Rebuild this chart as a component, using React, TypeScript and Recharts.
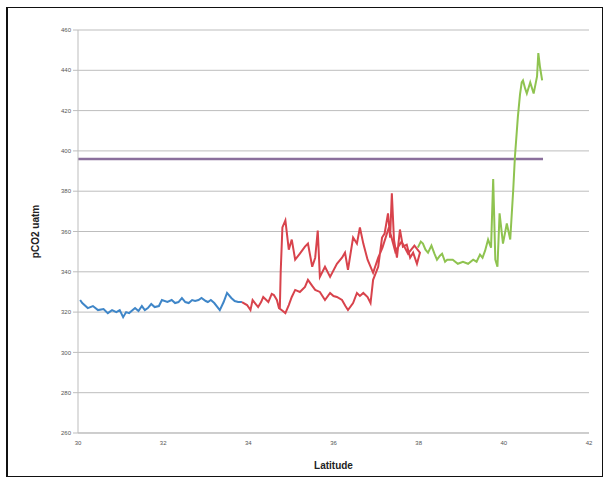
import React from 'react';
import { LineChart, Line, XAxis, YAxis, CartesianGrid } from 'recharts';

// latitude, pCO2 pairs
const blueTrack: [number, number][] = [
  [30.05, 326], [30.1, 324.5], [30.23, 322], [30.35, 323], [30.47, 321], [30.6, 321.5], [30.7, 319.5], [30.8, 321],
  [30.9, 320], [30.98, 321], [31.06, 317.5], [31.13, 320], [31.2, 319.5], [31.34, 322], [31.42, 320.5], [31.5, 323],
  [31.57, 321], [31.64, 322], [31.72, 324], [31.8, 322.5], [31.9, 323], [31.97, 326], [32.1, 325], [32.2, 326],
  [32.28, 324.5], [32.36, 325], [32.44, 327], [32.52, 325], [32.6, 324.5], [32.68, 326], [32.75, 325.5], [32.83, 326],
  [32.9, 327], [33.0, 325.5], [33.05, 325], [33.12, 326], [33.2, 324.5], [33.33, 321], [33.42, 325], [33.5, 329.5],
  [33.6, 327], [33.68, 325.5], [33.76, 325], [33.85, 325],
];

const redTrack: [number, number][] = [
  [33.85, 325], [33.97, 323.5], [34.05, 321], [34.1, 326], [34.23, 322.5], [34.3, 325], [34.35, 327.5], [34.47, 325],
  [34.55, 329], [34.6, 328.5], [34.67, 326], [34.72, 322], [34.78, 321], [34.87, 319.5], [34.95, 323.5], [35.02, 327.5],
  [35.1, 331], [35.21, 330], [35.33, 332.5], [35.4, 336], [35.5, 333], [35.57, 331], [35.68, 330], [35.8, 326],
  [35.92, 329.5], [36.0, 328], [36.08, 327.5], [36.2, 326], [36.28, 323], [36.34, 321], [36.46, 324.5], [36.55, 329.5],
  [36.62, 328], [36.7, 329.5], [36.8, 327.5], [36.87, 324.5], [36.93, 336], [37.05, 342.5], [37.14, 357], [37.2, 359],
  [37.28, 369], [37.33, 357], [37.37, 379], [37.42, 356], [37.49, 347], [37.56, 361], [37.63, 352.5], [37.72, 353.5],
  [37.8, 347], [37.87, 349.5], [37.96, 344], [38.03, 349.5],
  [37.9, 353], [37.75, 349], [37.6, 355], [37.45, 350], [37.3, 362], [37.15, 352], [37.05, 347], [36.93, 339.5],
  [36.8, 346], [36.7, 354], [36.62, 362], [36.55, 354], [36.46, 357], [36.34, 341], [36.27, 349.5], [36.2, 347],
  [36.08, 344], [35.92, 337.5], [35.8, 342.5], [35.68, 337.5], [35.63, 360.5], [35.57, 347], [35.5, 342.5],
  [35.4, 354], [35.33, 352.5], [35.21, 349], [35.1, 346], [35.02, 356], [34.95, 351], [34.87, 365.5], [34.8, 362],
  [34.76, 340], [34.74, 322],
];

const greenTrack: [number, number][] = [
  [37.98, 352], [38.05, 355], [38.1, 354], [38.16, 351], [38.22, 349.5], [38.3, 353], [38.37, 349], [38.43, 346],
  [38.5, 348], [38.55, 349], [38.62, 345], [38.67, 346], [38.8, 346], [38.92, 344], [39.04, 345], [39.16, 344],
  [39.28, 346], [39.36, 345], [39.44, 348.5], [39.5, 347], [39.56, 350.5], [39.63, 356], [39.7, 352], [39.75, 386],
  [39.8, 346], [39.85, 342.5], [39.9, 369], [39.98, 354], [40.07, 364], [40.15, 356], [40.22, 380.5], [40.26, 397],
  [40.33, 417], [40.38, 428], [40.42, 434], [40.45, 435], [40.5, 431], [40.54, 428.5], [40.62, 434], [40.7, 428.5],
  [40.78, 437], [40.81, 448.5], [40.85, 441.5], [40.9, 435],
];

const refTrack: [number, number][] = [[30.0, 396], [40.92, 396]];

const latTicks = [30, 32, 34, 36, 38, 40, 42];
const pco2Ticks = [260, 280, 300, 320, 340, 360, 380, 400, 420, 440, 460];

const toRows = (track: [number, number][]) => track.map(([lat, pco2]) => ({ lat, pco2 }));

const tickStyle = { fontSize: 6, fill: '#555', fontFamily: 'Liberation Sans, Arial, sans-serif' };

export default function App() {
  return (
    <div style={{ position: 'absolute', left: 0, top: 0, width: 609, height: 484, background: '#fff' }}>
      <div
        style={{
          position: 'absolute',
          left: 6,
          top: 7,
          width: 594,
          height: 468,
          borderTop: '1px solid #111',
          borderRight: '1px solid #111',
          borderBottom: '1px solid #111',
          borderLeft: '2px solid #111',
        }}
      />
      <div style={{ position: 'absolute', left: 0, top: 0 }}>
        <LineChart width={609} height={484} margin={{ top: 30, right: 20, bottom: 21, left: 28 }}>
          <CartesianGrid vertical={false} stroke="#bdbdbd" />
          <XAxis
            type="number"
            dataKey="lat"
            domain={[30, 42]}
            ticks={latTicks}
            interval={0}
            height={30}
            tick={tickStyle}
            tickLine={false}
            axisLine={{ stroke: '#bdbdbd' }}
            label={{
              value: 'Latitude',
              position: 'insideBottom',
              offset: -6,
              style: { fontSize: 10, fontWeight: 'bold', fill: '#222', fontFamily: 'Liberation Sans, Arial, sans-serif' },
            }}
          />
          <YAxis
            type="number"
            dataKey="pco2"
            domain={[260, 460]}
            ticks={pco2Ticks}
            interval={0}
            width={50}
            tick={tickStyle}
            tickSize={5}
            tickLine={{ stroke: '#bdbdbd' }}
            axisLine={{ stroke: '#bdbdbd' }}
            label={{
              value: 'pCO2 uatm',
              angle: -90,
              position: 'insideLeft',
              offset: 7,
              textAnchor: 'middle',
              style: { fontSize: 10, fontWeight: 'bold', fill: '#222', textAnchor: 'middle', fontFamily: 'Liberation Sans, Arial, sans-serif' },
            }}
          />
          <Line data={toRows(refTrack)} dataKey="pco2" stroke="#8a6f9c" strokeWidth={2.5} dot={false} isAnimationActive={false} />
          <Line data={toRows(blueTrack)} dataKey="pco2" stroke="#3f86c8" strokeWidth={2} dot={false} isAnimationActive={false} />
          <Line data={toRows(redTrack)} dataKey="pco2" stroke="#d8434c" strokeWidth={2} dot={false} isAnimationActive={false} />
          <Line data={toRows(greenTrack)} dataKey="pco2" stroke="#8fc350" strokeWidth={2} dot={false} isAnimationActive={false} />
        </LineChart>
      </div>
    </div>
  );
}
